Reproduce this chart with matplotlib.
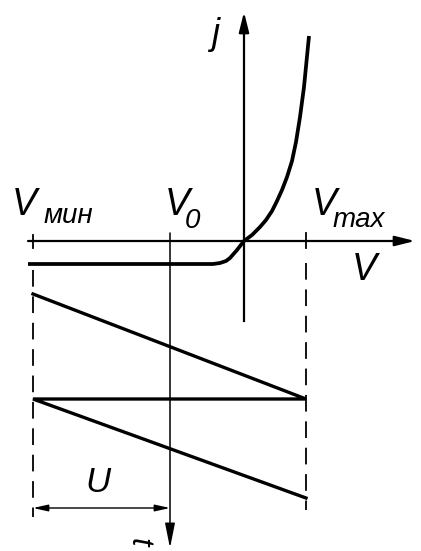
import matplotlib
matplotlib.use("Agg")
from matplotlib import pyplot as plt

# schematic coordinates: x along V, y along j (up) and time (down, below the V axis)
V_MIN = -211
V_0 = -74
V_MAX = 62

# diode characteristic
diode_v = [-216, -31, -24, -18, -14, -7, 0, 8, 16, 22, 28, 33, 38, 43, 48, 52, 56, 60, 65]
diode_j = [-23, -23, -22, -20, -17, -9, 0, 6, 14, 21, 30, 40, 51, 64, 80, 99, 124, 154, 205]

# sawtooth sweep voltage vs time
saw_v = [V_MIN, V_MAX, V_MIN, V_MAX]
saw_t = [-53, -158, -158, -257]

# axis extents
v_axis = [-216, 171]
j_axis = [-80, 229]
t_axis = [8, -307]
u_level = -267

plt.rcParams['lines.scale_dashes'] = False
font = dict(family='Liberation Sans', style='italic', color='black')

fig = plt.figure(figsize=(4.21, 5.51), dpi=100)
ax = fig.add_axes([0, 0, 1, 1])
ax.set_xlim(-244, 177)
ax.set_ylim(-310, 241)
ax.axis('off')


def arrow(ax, start, tip, lw, hl, hw):
    ax.annotate('', xy=tip, xytext=start,
                arrowprops=dict(arrowstyle='-|>,head_length=%s,head_width=%s' % (hl, hw),
                                lw=lw, color='black', shrinkA=0, shrinkB=0))


# V axis and j axis
arrow(ax, (v_axis[0], 0), (v_axis[1], 0), 1.6, 1.2, 0.3)
ax.plot([0, 0], [j_axis[0], j_axis[1] - 10], color='black', lw=1.6)
arrow(ax, (0, j_axis[1] - 20), (0, j_axis[1]), 1.6, 1.2, 0.3)

# ticks and dashed guide lines
dash = (0, (12, 7))
ax.plot([V_MIN, V_MIN], [6, -7], color='black', lw=1.3)
ax.plot([V_MIN, V_MIN], [-29, -276], color='black', lw=1.3, linestyle=dash)
ax.plot([V_MAX, V_MAX], [8, -7], color='black', lw=1.3)
ax.plot([V_MAX, V_MAX], [-22, -269], color='black', lw=1.3, linestyle=dash)

# time axis through V0
arrow(ax, (V_0, t_axis[0]), (V_0, t_axis[1]), 1.1, 1.5, 0.3)

# U dimension
ax.annotate('', xy=(V_MIN, u_level), xytext=(V_0, u_level),
            arrowprops=dict(arrowstyle='<|-|>,head_length=0.9,head_width=0.2',
                            lw=1.0, color='black', shrinkA=0, shrinkB=0))

# curves
ax.plot(diode_v, diode_j, color='black', lw=2.7, solid_capstyle='butt')
ax.plot(saw_v, saw_t, color='black', lw=2.4, solid_joinstyle='miter')

# labels
ax.text(-232, 26, 'V', fontsize=27, **font)
ax.text(-200, 18, 'мин', fontsize=20, **font)
ax.text(-79, 26, 'V', fontsize=27, **font)
ax.text(-59, 13, '0', fontsize=20, **font)
ax.text(68, 26, 'V', fontsize=27, **font)
ax.text(89, 14, 'max', fontsize=20, **font)
ax.text(108, -39, 'V', fontsize=27, **font)
ax.text(-33, 197, 'j', fontsize=26, **font)
ax.text(-146, -251, 'U', fontsize=25, ha='center', **font)
ax.text(-105, -301, 't', fontsize=22, rotation=-90, ha='center', va='center', **font)

fig.savefig('out.png', dpi=100)
